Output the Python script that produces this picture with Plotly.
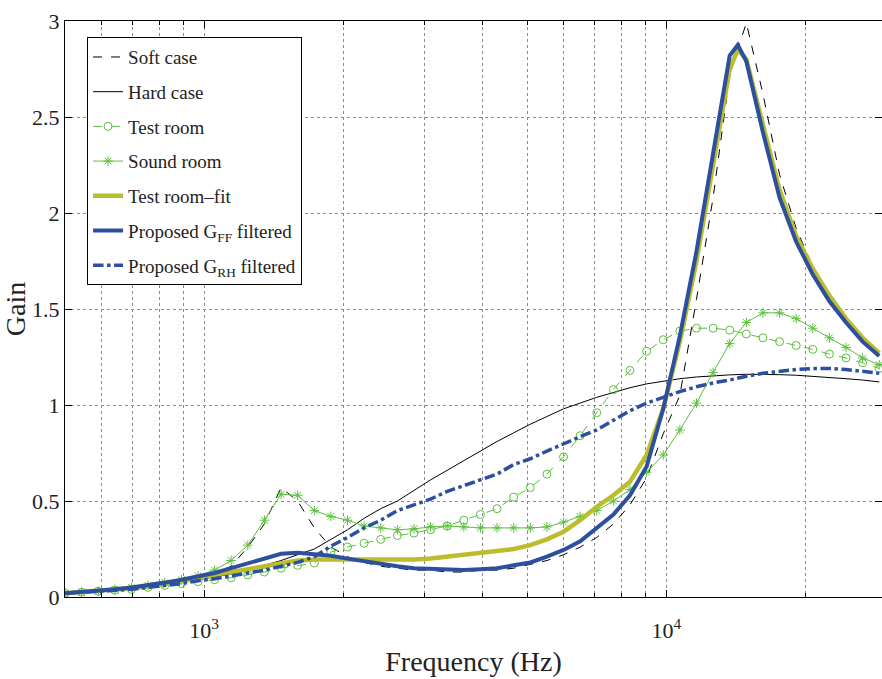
import plotly.graph_objects as go
import math

# Frequency grid (Hz)
freq = [500, 543, 590, 641, 696, 756, 822, 893, 970, 1053,
        1144, 1243, 1350, 1467, 1593, 1731, 1880, 2042, 2219, 2410,
        2618, 2844, 3089, 3356, 3646, 3960, 4302, 4673, 5077, 5515,
        5991, 6508, 7069, 7680, 8342, 9062, 9844, 10693, 11616, 12619,
        13708, 14891, 16176, 17572, 19088, 20735, 22524, 24467, 26579, 28872]

# Grid with an extra point at the resonance peak
freq_pk = freq[:41] + [14270] + freq[41:]

soft_case = [0.02, 0.025, 0.03, 0.035, 0.045, 0.055, 0.065, 0.08, 0.10, 0.12,
             0.16, 0.26, 0.38, 0.57, 0.50, 0.36, 0.26, 0.21, 0.18, 0.16,
             0.15, 0.14, 0.14, 0.13, 0.13, 0.14, 0.14, 0.15, 0.17, 0.19,
             0.22, 0.26, 0.31, 0.38, 0.48, 0.62, 0.85, 1.05, 1.55, 2.08,
             2.72, 2.99, 2.62, 2.20, 1.92, 1.72, 1.57, 1.45, 1.35, 1.27]

hard_case = [0.02, 0.025, 0.03, 0.035, 0.04, 0.05, 0.06, 0.075, 0.09, 0.105,
             0.12, 0.14, 0.165, 0.19, 0.22, 0.25, 0.30, 0.35, 0.41, 0.46,
             0.50, 0.555, 0.61, 0.66, 0.71, 0.76, 0.81, 0.855, 0.90, 0.94,
             0.98, 1.01, 1.04, 1.065, 1.09, 1.11, 1.125, 1.137, 1.146, 1.152,
             1.157, 1.16, 1.16, 1.158, 1.155, 1.15, 1.145, 1.137, 1.13, 1.12]

test_room = [0.02, 0.025, 0.03, 0.035, 0.04, 0.05, 0.06, 0.07, 0.08, 0.09,
             0.10, 0.115, 0.13, 0.15, 0.165, 0.177, 0.234, 0.26, 0.28, 0.30,
             0.32, 0.333, 0.35, 0.37, 0.40, 0.43, 0.46, 0.52, 0.57, 0.64,
             0.73, 0.84, 0.96, 1.08, 1.18, 1.28, 1.34, 1.385, 1.40, 1.40,
             1.39, 1.37, 1.35, 1.33, 1.31, 1.29, 1.265, 1.245, 1.22, 1.19]

sound_room = [0.02, 0.025, 0.03, 0.04, 0.05, 0.06, 0.075, 0.09, 0.11, 0.14,
              0.19, 0.27, 0.40, 0.535, 0.53, 0.45, 0.42, 0.40, 0.37, 0.36,
              0.35, 0.355, 0.365, 0.37, 0.365, 0.36, 0.36, 0.36, 0.36, 0.365,
              0.39, 0.42, 0.45, 0.50, 0.56, 0.65, 0.74, 0.87, 1.01, 1.17,
              1.32, 1.43, 1.48, 1.48, 1.45, 1.40, 1.35, 1.30, 1.245, 1.21]

test_room_fit = [0.02, 0.025, 0.03, 0.035, 0.045, 0.055, 0.065, 0.08, 0.10, 0.115,
                 0.13, 0.15, 0.165, 0.18, 0.19, 0.195, 0.195, 0.19, 0.19, 0.19,
                 0.19, 0.195, 0.20, 0.21, 0.22, 0.235, 0.24, 0.25, 0.27, 0.30,
                 0.34, 0.40, 0.47, 0.53, 0.60, 0.74, 0.98, 1.33, 1.75, 2.25,
                 2.75, 2.85, 2.80, 2.46, 2.12, 1.88, 1.71, 1.57, 1.45, 1.35, 1.27]

proposed_ff = [0.02, 0.025, 0.03, 0.04, 0.05, 0.06, 0.075, 0.09, 0.105, 0.125,
               0.15, 0.175, 0.20, 0.225, 0.23, 0.225, 0.215, 0.20, 0.185, 0.17,
               0.16, 0.15, 0.145, 0.14, 0.14, 0.145, 0.15, 0.165, 0.18, 0.21,
               0.245, 0.29, 0.36, 0.43, 0.53, 0.68, 0.98, 1.36, 1.80, 2.30,
               2.82, 2.875, 2.79, 2.42, 2.08, 1.85, 1.68, 1.54, 1.43, 1.33, 1.255]

proposed_rh = [0.02, 0.025, 0.03, 0.035, 0.04, 0.05, 0.06, 0.07, 0.085, 0.095,
               0.11, 0.125, 0.14, 0.16, 0.18, 0.21, 0.265, 0.31, 0.36, 0.40,
               0.45, 0.48, 0.51, 0.55, 0.58, 0.61, 0.64, 0.69, 0.72, 0.76,
               0.80, 0.835, 0.87, 0.92, 0.97, 1.01, 1.04, 1.07, 1.095, 1.115,
               1.13, 1.15, 1.165, 1.175, 1.185, 1.19, 1.19, 1.185, 1.175, 1.165]

labels = ["Soft case", "Hard case", "Test room", "Sound room", "Test room\u2013fit",
          "Proposed G<sub>FF</sub> filtered", "Proposed G<sub>RH</sub> filtered"]

x_major = [1000, 10000]
x_major_text = ["10<sup>3</sup>", "10<sup>4</sup>"]
x_minor = [600, 700, 800, 900, 2000, 3000, 4000, 5000, 6000, 7000, 8000, 9000, 20000]
y_ticks = [0, 0.5, 1, 1.5, 2, 2.5, 3]
y_tick_text = ["0", "0.5", "1", "1.5", "2", "2.5", "3"]

GREEN = "#5cbf3f"
OLIVE = "#bcbd2c"
BLUE = "#2c4fa0"
FONT = "Liberation Serif"

fig = go.Figure()
specs = [
    (freq, soft_case, dict(mode="lines", line=dict(color="black", width=1, dash="dash"))),
    (freq, hard_case, dict(mode="lines", line=dict(color="black", width=1))),
    (freq, test_room, dict(mode="lines+markers", line=dict(color=GREEN, width=1, dash="dash"),
                           marker=dict(symbol="circle-open", size=8, color=GREEN, line=dict(width=1)))),
    (freq, sound_room, dict(mode="lines+markers", line=dict(color=GREEN, width=1),
                            marker=dict(symbol="asterisk-open", size=8, color=GREEN,
                                        line=dict(width=1, color=GREEN)))),
    (freq_pk, test_room_fit, dict(mode="lines", line=dict(color=OLIVE, width=4.5))),
    (freq_pk, proposed_ff, dict(mode="lines", line=dict(color=BLUE, width=4))),
    (freq, proposed_rh, dict(mode="lines", line=dict(color=BLUE, width=3.5, dash="dashdot"))),
]
for i, (xs, ys, kw) in enumerate(specs):
    fig.add_trace(go.Scatter(x=xs, y=ys, name=labels[i], legendgroup=f"g{i}", **kw))

gridc = "#8a8a8a"

fig.update_layout(
    width=882, height=679,
    margin=dict(l=65, r=0, t=21, b=82),
    paper_bgcolor="white", plot_bgcolor="white",
    font=dict(family=FONT, size=22, color="#222"),
    showlegend=True,
    legend=dict(x=0.027, y=0.972, xanchor="left", yanchor="top",
                bgcolor="white", bordercolor="black", borderwidth=1,
                font=dict(family=FONT, size=19, color="#222"),
                tracegroupgap=7, itemwidth=30),
    xaxis=dict(type="log", range=[math.log10(500), math.log10(29270)],
               tickvals=x_major, ticktext=x_major_text,
               ticks="inside", ticklen=7, tickcolor="black", ticklabelstandoff=14,
               showline=True, linecolor="black", linewidth=1, mirror="ticks",
               showgrid=True, gridcolor=gridc, griddash="dot", gridwidth=1,
               minor=dict(tickvals=x_minor, ticks="inside", ticklen=4, tickcolor="black",
                          showgrid=True, gridcolor=gridc, griddash="dot", gridwidth=1),
               title=dict(text="Frequency (Hz)", font=dict(size=28, family=FONT), standoff=8),
               zeroline=False, automargin=False),
    yaxis=dict(range=[0, 3], tickvals=y_ticks, ticktext=y_tick_text,
               ticks="inside", ticklen=7, tickcolor="black",
               showline=True, linecolor="black", linewidth=1, mirror="ticks",
               showgrid=True, gridcolor=gridc, griddash="dot", gridwidth=1,
               title=dict(text="Gain", font=dict(size=28, family=FONT), standoff=6),
               zeroline=False, automargin=False),
)

fig.write_html("out.html", config={"displayModeBar": False},
               post_script="document.body.style.margin='0';document.body.style.overflow='hidden';")
